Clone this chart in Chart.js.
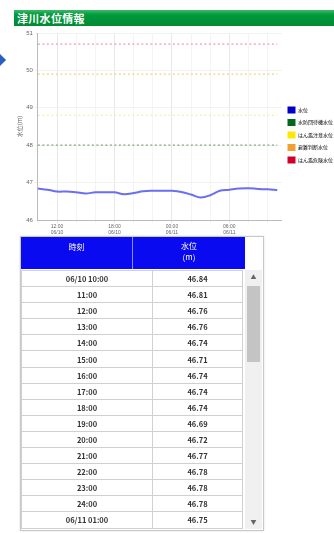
<!DOCTYPE html>
<html lang="ja">
<head>
<meta charset="utf-8">
<title>津川水位情報</title>
<script src="https://cdn.jsdelivr.net/npm/chart.js@4/dist/chart.umd.min.js"></script>
<style>
  html, body { margin: 0; padding: 0; background: #fff; }
  body { width: 334px; height: 533px; position: relative; overflow: hidden;
         font-family: "Noto Sans CJK JP", "Noto Sans", sans-serif; }
  .nav { position: absolute; left: -6px; top: 55px; width: 10px; height: 10px;
         background: #2860c0; transform: rotate(45deg); }
  .titlebar { position: absolute; left: 14px; top: 10px; width: 320px; height: 16px;
              background: linear-gradient(#3cb86a, #009a3c 30%, #008a34); }
  .titlebar span { position: absolute; left: 3px; top: 1px; color: #fff; font-weight: bold;
                   font-size: 11px; line-height: 14px; letter-spacing: 0.3px; }
  #chartBox { position: absolute; left: 10px; top: 27px; width: 324px; height: 210px; }
  .tbl { position: absolute; left: 20px; top: 236px; width: 242px; height: 293px;
         border: 1px solid #c8c8c8; box-shadow: 0 0 2px #ddd; background: #fff; }
  .head { position: absolute; left: 0; top: 0; width: 224px; height: 32px; background: #0a0af0;
          color: #fff; font-size: 8px; }
  .head .c1 { position: absolute; left: 0; top: 0; width: 111px; height: 32px;
              border-right: 1px solid #8c8cff; text-align: center; line-height: 20px; }
  .head .c2 { position: absolute; left: 112px; top: 0; width: 112px; height: 32px;
              text-align: center; line-height: 11px; padding-top: 3px; box-sizing: border-box; }
  .body { position: absolute; left: 0; top: 33px; width: 222px; height: 259px; overflow: hidden; }
  .body table { border-collapse: collapse; width: 222px; font-size: 7.5px; color: #333; font-weight: bold; }
  .body td { height: 15.1px; border: 1px solid #d0d0d0; text-align: center; padding: 0; line-height: 15px; }
  .body td.t { width: 130px; }
  .sbar { position: absolute; left: 224px; top: 33px; width: 17px; height: 259px; background: #f0f0f0; }
  .sbar .thumb { position: absolute; left: 2px; top: 16px; width: 13px; height: 76px; background: #c4c4c4; }
  .sbar .arr { position: absolute; left: 0; width: 17px; height: 14px; text-align: center;
               font-size: 6px; line-height: 14px; color: #666; }
</style>
</head>
<body>
<div class="nav"></div>
<div class="titlebar"><span>津川水位情報</span></div>
<div id="chartBox"><canvas id="levelChart"></canvas></div>

<div class="tbl">
  <div class="head">
    <div class="c1">時刻</div>
    <div class="c2">水位<br>(m)</div>
  </div>
  <div class="body"><table id="rows"></table></div>
  <div class="sbar">
    <div class="arr" style="top:0">▲</div>
    <div class="thumb"></div>
    <div class="arr" style="bottom:0">▼</div>
  </div>
</div>

<script>
// Hourly readings, 06/10 10:00 through 06/11 11:00
const timeLabels = ['06/10 10:00','11:00','12:00','13:00','14:00','15:00','16:00','17:00','18:00',
  '19:00','20:00','21:00','22:00','23:00','24:00','06/11 01:00','02:00','03:00','04:00','05:00',
  '06:00','07:00','08:00','09:00','10:00','11:00'];
const waterLevel = [46.84,46.81,46.76,46.76,46.74,46.71,46.74,46.74,46.74,46.69,46.72,46.77,46.78,
  46.78,46.78,46.75,46.68,46.60,46.66,46.78,46.81,46.84,46.85,46.83,46.82,46.80];

// Reference levels (m)
const standbyLevel = 48.0;   // 水防団待機水位
const cautionLevel = 48.8;   // はん濫注意水位
const judgeLevel = 49.9;     // 避難判断水位
const dangerLevel = 50.7;    // はん濫危険水位

const seriesNames = ['水位','水防団待機水位','はん濫注意水位','避難判断水位','はん濫危険水位'];
const legendColors = ['#0000c8','#006a1a','#ffe800','#f0a030','#d0002a'];

// x-axis ticks: hour offset from the first reading, with time and date lines
const tickHours = [2, 8, 14, 20];
const tickText = [['12:00','06/10'], ['18:00','06/10'], ['00:00','06/11'], ['06:00','06/11']];
// light vertical guide lines every two hours
const guideHours = [0, 2, 4, 6, 8, 10, 12, 14, 16, 18, 20, 22, 24];

// table rows
const tb = document.getElementById('rows');
timeLabels.forEach((t, i) => {
  const tr = document.createElement('tr');
  const a = document.createElement('td'); a.className = 't'; a.textContent = t;
  const b = document.createElement('td'); b.textContent = waterLevel[i].toFixed(2);
  tr.appendChild(a); tr.appendChild(b); tb.appendChild(tr);
});

const levelPoints = waterLevel.map((v, i) => ({ x: i, y: v }));
const flat = v => timeLabels.map((_, i) => ({ x: i, y: v }));

function refLine(label, value, color) {
  return { label, data: flat(value), borderColor: color, borderWidth: 1.3,
           borderDash: [2, 2.5], pointRadius: 0, fill: false, tension: 0 };
}

new Chart(document.getElementById('levelChart'), {
  type: 'line',
  data: {
    datasets: [
      { label: seriesNames[0], data: levelPoints, borderColor: '#6a6ef0', borderWidth: 2,
        pointRadius: 0, tension: 0.35, fill: false },
      refLine(seriesNames[1], standbyLevel, '#7aaa7a'),
      refLine(seriesNames[2], cautionLevel, '#f4f0a0'),
      refLine(seriesNames[3], judgeLevel, '#f2d27a'),
      refLine(seriesNames[4], dangerLevel, '#f09aa4')
    ]
  },
  options: {
    responsive: true,
    maintainAspectRatio: false,
    animation: false,
    layout: { padding: { top: 6, right: -9, left: 5, bottom: 0 } },
    plugins: {
      tooltip: { enabled: false },
      legend: {
        position: 'right',
        labels: {
          boxWidth: 8, boxHeight: 7, padding: 5.5, color: '#444',
          font: { size: 5, family: '"Noto Sans CJK JP", sans-serif' },
          generateLabels: chart => chart.data.datasets.map((d, i) => ({
            text: d.label, fillStyle: legendColors[i], strokeStyle: legendColors[i],
            lineWidth: 0, datasetIndex: i, hidden: false
          }))
        }
      }
    },
    scales: {
      x: {
        type: 'linear', min: 0, max: 25.5,
        afterBuildTicks: axis => { axis.ticks = guideHours.map(v => ({ value: v })); },
        ticks: {
          maxRotation: 0, autoSkip: false, color: '#666', padding: 1,
          font: { size: 5 },
          callback: v => { const k = tickHours.indexOf(v); return k >= 0 ? tickText[k] : ''; }
        },
        grid: { color: ctx => tickHours.includes(ctx.tick && ctx.tick.value) ? '#e8e8e8' : '#f4f4f4',
                tickLength: 3 },
        border: { color: '#bbbbbb' }
      },
      y: {
        min: 46, max: 51,
        ticks: { stepSize: 1, color: '#666', font: { size: 6 }, padding: 2 },
        grid: { color: '#f2f2f2', tickLength: 3 },
        border: { color: '#bbbbbb' },
        title: { display: true, text: '水位(m)', color: '#666', padding: 1,
                 font: { size: 6, family: '"Noto Sans CJK JP", sans-serif' } }
      }
    }
  }
});
</script>
</body>
</html>
